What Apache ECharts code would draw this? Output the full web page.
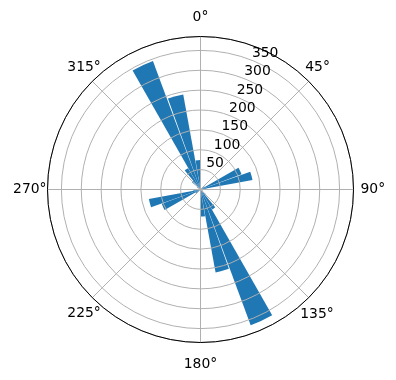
<!DOCTYPE html>
<html>
<head>
<meta charset="utf-8">
<script src="https://cdn.jsdelivr.net/npm/echarts@6/dist/echarts.min.js"></script>
<style>html,body{margin:0;padding:0;background:#fff}#c{width:396px;height:380px}</style>
</head>
<body>
<div id="c"></div>
<script>
// 36 direction bins of 10 degrees, starting at 0° (north), clockwise
const binLabels = Array.from({length: 36}, (_, i) => (i * 10) + '-' + (i * 10 + 10));
const counts = [3, 0, 0, 2, 5, 12, 110, 133, 15, 3, 0, 3, 8, 18, 58, 364, 212, 68,
                8, 0, 0, 2, 6, 15, 104, 132, 18, 4, 2, 5, 10, 28, 62, 345, 243, 74];
const angleTicks = [0, 45, 90, 135, 180, 225, 270, 315];
const radiusTicks = [0, 50, 100, 150, 200, 250, 300, 350];
const rMax = 385;

const font = 'DejaVu Sans';
const center = [200.5, 189.5];
const R = 153;
// per-label padding [top, right, bottom, left] to centre labels like matplotlib
const pads = {
  0: [0, 0, 24, 0], 45: [0, 0, 15, 5], 90: [0, 0, 0, 19], 135: [18, 0, 0, 0],
  180: [27, 0, 0, 0], 225: [17, 0, 0, 0], 270: [0, 13, 0, 0], 315: [0, 0, 15, 0]
};
const rich = {};
angleTicks.forEach(a => {
  rich['a' + a] = {padding: pads[a], fontFamily: font, fontSize: 13.9, color: '#000'};
});
const chart = echarts.init(document.getElementById('c'), null, {renderer: 'canvas'});
chart.setOption({
  animation: false,
  polar: [
    {center: center, radius: R},
    {center: center, radius: R},
    {center: center, radius: R}
  ],
  angleAxis: [
    {polarIndex: 0, type: 'category', data: binLabels, startAngle: 90, clockwise: true,
     boundaryGap: true, show: false},
    {polarIndex: 1, type: 'value', min: 0, max: 360, interval: 45, startAngle: 90, clockwise: true,
     z: 5,
     axisLine: {show: true, lineStyle: {color: '#000', width: 1}},
     axisTick: {show: false},
     axisLabel: {show: true, margin: -12, color: '#000', fontFamily: font, fontSize: 13.9,
       rich: rich,
       formatter: v => (angleTicks.includes(v) ? '{a' + v + '|' + v + '°}' : '')},
     splitLine: {show: true, lineStyle: {color: '#b0b0b0', width: 1}}},
    {polarIndex: 2, type: 'value', min: 0, max: 360, startAngle: 67.5, clockwise: true, show: false}
  ],
  radiusAxis: [
    {polarIndex: 0, type: 'value', min: 0, max: rMax, show: false},
    {polarIndex: 1, type: 'value', min: 0, max: rMax, interval: 50, z: 4,
     axisLine: {show: false}, axisTick: {show: false}, axisLabel: {show: false},
     splitLine: {show: true, lineStyle: {color: '#b0b0b0', width: 1}}},
    {polarIndex: 2, type: 'value', min: 0, max: rMax, interval: 50, z: 6,
     axisLine: {show: false}, axisTick: {show: false}, splitLine: {show: false},
     axisLabel: {show: true, showMinLabel: false, showMaxLabel: false, margin: 2,
       color: '#000', fontFamily: font, fontSize: 13.9, align: 'left', verticalAlign: 'bottom',
       formatter: v => (radiusTicks.includes(v) && v > 0 ? String(v) : '')}}
  ],
  series: [{
    type: 'bar', coordinateSystem: 'polar', polarIndex: 0,
    data: counts, barCategoryGap: '6%',
    itemStyle: {color: '#1f77b4'}, z: 2
  }]
});
</script>
</body>
</html>
